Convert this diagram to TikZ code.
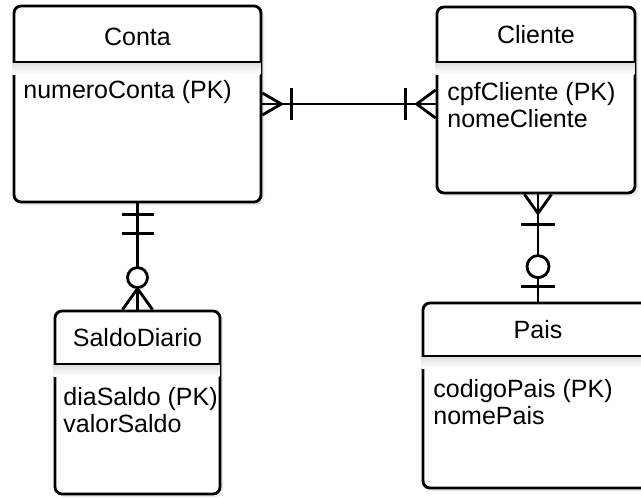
\documentclass[tikz,border=0pt]{standalone}
\usepackage{fontspec}
\setmainfont{Liberation Sans}
\usetikzlibrary{calc,shadows}
\tikzstyle{entity} =
  [ rectangle
  , draw
  , rounded corners=7pt
  , fill=white
  , inner sep=0pt
  , drop shadow={shadow xshift=3pt, shadow yshift=-3pt, opacity=0.18}
  ]
\tikzstyle{entity_title} =
  [ anchor=base
  , inner sep=0pt
  , font=\fontsize{25}{29}\selectfont
  ]
\tikzstyle{attribute} =
  [ anchor=base west
  , inner sep=0pt
  , font=\fontsize{25}{29}\selectfont
  ]
\tikzstyle{optional} = [ circle, draw, fill=white, inner sep=0pt ]
\def\PK{(PK)}

\begin{document}
\begin{tikzpicture}[x=1pt, y=-1pt, line width=2.8pt]
    \useasboundingbox (0,0) rectangle (641,498);
    \clip (0,0) rectangle (641,498);

    \node[entity, minimum width=247, minimum height=196] (Conta)       at (137.5,104)   {};
    \node[entity, minimum width=198, minimum height=186] (Cliente)     at (536,100)     {};
    \node[entity, minimum width=165, minimum height=183] (SaldoDiario) at (137.5,402.5) {};
    \node[entity, minimum width=230, minimum height=185] (Pais)        at (538,395.5)   {};

    % header shade and divider
    \shade[top color=black!14, bottom color=white, line width=0pt] (Conta.west |- 0,62) rectangle ($(Conta.east |- 0,74)+(-2,0)$);
    \shade[top color=black!14, bottom color=white, line width=0pt] (Cliente.west |- 0,62) rectangle ($(Cliente.east |- 0,74)+(-2,0)$);
    \shade[top color=black!14, bottom color=white, line width=0pt] (SaldoDiario.west |- 0,364) rectangle ($(SaldoDiario.east |- 0,376)+(-2,0)$);
    \shade[top color=black!14, bottom color=white, line width=0pt] (Pais.west |- 0,356) rectangle ($(Pais.east |- 0,368)+(-2,0)$);
    \draw (Conta.west |- 0,62)       -- (Conta.east |- 0,62);
    \draw (Cliente.west |- 0,62)     -- (Cliente.east |- 0,62);
    \draw (SaldoDiario.west |- 0,364) -- (SaldoDiario.east |- 0,364);
    \draw (Pais.west |- 0,356)       -- (Pais.east |- 0,356);

    \node[entity_title] (ContaTitle)       at (137.5,45) {Conta};
    \node[entity_title] (ClienteTitle)     at (536,43)   {Cliente};
    \node[entity_title] (SaldoDiarioTitle) at (137.5,346) {SaldoDiario};
    \node[entity_title] (PaisTitle)        at (538,338)  {Pais};

    \node[attribute] (numeroConta) at (22,98)   {numeroConta \PK};
    \node[attribute] (cpfCliente)  at (446,100) {cpfCliente \PK};
    \node[attribute] (nomeCliente) at (446,127) {nomeCliente};
    \node[attribute] (diaSaldo)    at (62,405)  {diaSaldo \PK};
    \node[attribute] (valorSaldo)  at (62,432)  {valorSaldo};
    \node[attribute] (codigoPais)  at (432,397) {codigoPais \PK};
    \node[attribute] (nomePais)    at (432,424) {nomePais};

    % Conta -- Cliente
    \coordinate (cli_in) at (Conta.east -| Cliente.west);
    \draw (Conta.east) -- (cli_in);
    \draw ($(Conta.east)+(0,-11)$) -- ($(Conta.east)+(19,0)$) -- ($(Conta.east)+(0,11)$);
    \draw ($(Conta.east)+(29,-16)$) -- ($(Conta.east)+(29,16)$);
    \draw ($(cli_in)+(0,-14)$) -- ($(cli_in)+(-19,0)$) -- ($(cli_in)+(0,14)$);
    \draw ($(cli_in)+(-30,-16)$) -- ($(cli_in)+(-30,16)$);

    % Conta -- SaldoDiario
    \draw (Conta.south) -- (SaldoDiario.north);
    \draw ($(Conta.south)+(-16,11)$) -- ($(Conta.south)+(16,11)$);
    \draw ($(Conta.south)+(-16,30)$) -- ($(Conta.south)+(16,30)$);
    \draw ($(SaldoDiario.north)+(-15,0)$) -- ($(SaldoDiario.north)+(0,-21)$) -- ($(SaldoDiario.north)+(15,0)$);
    \node[optional, minimum size=20] (saldo_opt) at ($(SaldoDiario.north)+(0,-32)$) {};

    % Cliente -- Pais
    \coordinate (cli_out) at (Pais.north |- Cliente.south);
    \draw (cli_out) -- (Pais.north);
    \draw ($(cli_out)+(-13.5,0)$) -- ($(cli_out)+(0,19)$) -- ($(cli_out)+(13.5,0)$);
    \draw ($(cli_out)+(-17,30)$) -- ($(cli_out)+(17,30)$);
    \node[optional, minimum size=22] (pais_opt) at ($(Pais.north)+(0,-35)$) {};
    \draw ($(Pais.north)+(-17,-15)$) -- ($(Pais.north)+(17,-15)$);
\end{tikzpicture}
\end{document}
